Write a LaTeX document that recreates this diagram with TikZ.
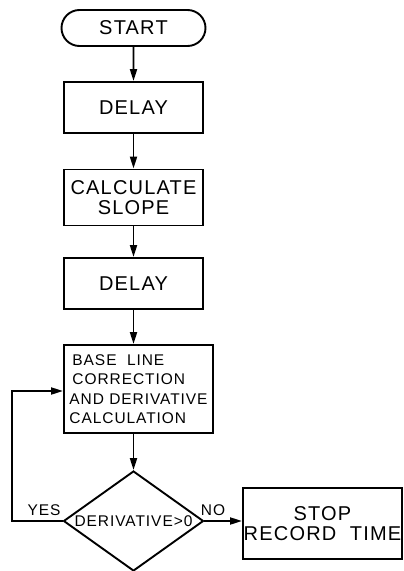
\documentclass[tikz,border=0pt]{standalone}
\usepackage{fontspec}
\setmainfont{Liberation Sans}[LetterSpace=6]
\usetikzlibrary{arrows.meta,shapes.geometric,shapes.misc}

\begin{document}
\begin{tikzpicture}[x=1pt, y=-1pt, >={Triangle[length=12pt,width=7pt]}, line width=1.9pt,
	big/.style={font=\fontsize{20}{20}\selectfont},
	small/.style={font=\fontsize{15.5}{19.5}\selectfont},
	box/.style={draw, rectangle, inner sep=0pt, align=center, big},
	term/.style={draw, rounded rectangle, inner sep=0pt, big},
	test/.style={draw, diamond, inner sep=0pt, minimum width=140pt, minimum height=100pt}]
	\useasboundingbox (0,0) rectangle (404,571);
	
	% Main column
	\pgfmathsetmacro{\xc}{133.5}
	
	\node[term, minimum width=144pt, minimum height=36pt] (start) at (\xc,28) {START};
	\node[box, minimum width=139pt, minimum height=51pt] (delayA) at (\xc,107.5) {DELAY};
	\node[box, minimum width=139pt, minimum height=56pt] (slope) at (\xc,197.5) {CALCULATE\\SLOPE};
	\node[box, minimum width=139pt, minimum height=51pt] (delayB) at (\xc,283.5) {DELAY};
	\node[box, small, align=left, minimum width=149pt, minimum height=88pt] (base) at (138.5,389)
		{\hspace{3pt}BASE\ \ LINE\\\hspace{3pt}CORRECTION\\AND DERIVATIVE\\CALCULATION};
	\node[test] (deriv) at (\xc,521) {};
	\node[small] (derivtxt) at (deriv.center) {DERIVATIVE>0};
	\node[box, minimum width=159pt, minimum height=71pt] (stop) at (322.5,523.5) {STOP\hspace{26pt}\\RECORD\ \ TIME};
	
	% Arrows down the column
	\draw[->] (start) -- (delayA);
	\draw[->] (delayA) -- (slope);
	\draw[->] (slope) -- (delayB);
	\draw[->] (delayB) -- (delayB.south |- base.north);
	\draw[->] (base.south -| deriv.north) -- (deriv.north);
	
	% Branches
	\coordinate (loopB) at (12,521);
	\coordinate (loopT) at (12,391);
	\draw[->] (deriv.west) -- (loopB) -- (loopT) -- (loopT -| base.west);
	\draw[->] (deriv.east) -- (deriv.east -| stop.west);
	\node[small, anchor=south] (yes) at (44,520) {YES};
	\node[small, anchor=south] (no) at (213,520) {NO};
\end{tikzpicture}
\end{document}
